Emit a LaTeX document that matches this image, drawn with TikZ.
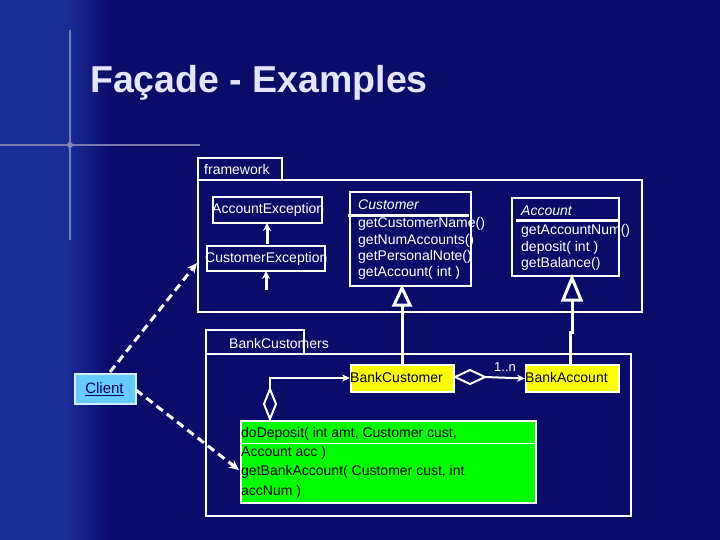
\documentclass[tikz,border=0pt]{standalone}
\usepackage{fontspec}
\setmainfont{Liberation Sans}
\usetikzlibrary{arrows.meta}
\definecolor{bg}{HTML}{0A0C6A}
\definecolor{strip}{HTML}{1A2C96}
\definecolor{titlec}{HTML}{E4E4FF}
\definecolor{yel}{HTML}{FFFF00}
\definecolor{grn}{HTML}{00FF00}
\definecolor{clientc}{HTML}{66CCFF}
\definecolor{clienttxt}{HTML}{000066}
\begin{document}
\begin{tikzpicture}[x=1pt,y=-1pt,
  box/.style={draw=white,line width=2pt,inner sep=0pt,anchor=north west},
  lbl/.style={text=white,font=\fontsize{14}{16}\selectfont,anchor=west,inner sep=0pt},
  dk/.style={text=black,font=\fontsize{14}{16}\selectfont,anchor=west,inner sep=0pt},
  wl/.style={draw=white,line width=2pt},
  dsh/.style={draw=white,line width=3pt,dash pattern=on 8pt off 5pt,-{Stealth[length=10pt,width=9pt]}},
  gen/.style={draw=white,line width=3pt},
  tri/.style={draw=white,line width=3pt,fill=bg}]
\useasboundingbox (0,0) rectangle (720,540);
\fill[bg] (0,0) rectangle (720,540);
\fill[strip] (0,0) rectangle (68,540);
\shade[left color=strip, right color=bg] (68,0) rectangle (110,540);
\draw[white!45!bg,line width=1.2pt] (0,145) -- (200,145);
\draw[white!45!bg,line width=1.2pt] (70,30) -- (70,240);
\fill[white!50!bg] (70,145) circle (3);
\node[text=titlec,font=\bfseries\fontsize{37.5}{40}\selectfont,anchor=west,inner sep=0pt] (title) at (90,83) {Façade - Examples};
% framework
\draw[wl] (198,158) rectangle (282,180);
\node[lbl] (fw) at (204,169) {framework};
\draw[wl] (198,180) rectangle (642,312);
\draw[wl] (213,197) rectangle (322,223);
\node[lbl] (ae) at (212,210) {AccountException};
\draw[wl] (207,246) rectangle (325,271);
\node[lbl] (ce) at (205,259) {CustomerException};
\coordinate (a1) at (267,244); \coordinate (a2) at (267,223);
\coordinate (b1) at (266,290); \coordinate (b2) at (266,271);
\draw[gen,-{Stealth[length=8pt,width=8pt]}] (a1) -- (a2);
\draw[gen,-{Stealth[length=8pt,width=8pt]}] (b1) -- (b2);
% Customer
\draw[wl] (350,192) rectangle (471,286);
\draw[wl,line width=3pt] (348,216) -- (469,216);
\node[lbl,font=\itshape\fontsize{14}{16}\selectfont] (cu) at (358,205) {Customer};
\node[lbl] (cm1) at (358,224) {getCustomerName()};
\node[lbl] (cm2) at (358,241) {getNumAccounts()};
\node[lbl] (cm3) at (358,257) {getPersonalNote()};
\node[lbl] (cm4) at (358,273) {getAccount( int )};
% Account
\draw[wl] (512,198) rectangle (619,276);
\draw[wl,line width=3pt] (516,221) -- (619,221);
\node[lbl,font=\itshape\fontsize{14}{16}\selectfont] (ac) at (521,211) {Account};
\node[lbl] (am1) at (521,231) {getAccountNum()};
\node[lbl] (am2) at (521,248) {deposit( int )};
\node[lbl] (am3) at (521,264) {getBalance()};
% BankCustomers
\draw[wl] (206,330) rectangle (304,354);
\node[lbl] (bcs) at (229,343) {BankCustomers};
\draw[wl] (206,354) rectangle (631,516);
\node[box,fill=yel,minimum width=103pt,minimum height=27pt] (bc) at (350,364) {};
\node[dk] at (350,377.5) {BankCustomer};
\node[box,fill=yel,minimum width=93pt,minimum height=27pt] (ba) at (525,364) {};
\node[dk] at (525,377.5) {BankAccount};
% generalization
\draw[gen] (402,305) -- (402,364);
\draw[tri] (402,288) -- (410,305) -- (394,305) -- cycle;
\draw[gen] (572,300) -- (572,332) -- (570,332) -- (570,364);
\draw[tri] (572,278) -- (581,300) -- (563,300) -- cycle;
% aggregation
\draw[wl,-{Stealth[length=8pt,width=7pt]}] (485,377) -- (ba.west);
\draw[wl,fill=bg] (455,377) -- (470,370) -- (485,377) -- (470,384) -- cycle;
\node[lbl,font=\fontsize{13}{15}\selectfont] (n) at (494,367) {1..n};
% green
\node[box,fill=grn,minimum width=295pt,minimum height=82pt] (gr) at (240,420) {};
\draw[draw=white,line width=1pt] (240,443) -- (535,443);
\node[dk] at (241,434) {doDeposit( int amt, Customer cust,};
\node[dk] at (241,453) {Account acc )};
\node[dk] at (241,472) {getBankAccount( Customer cust, int};
\node[dk] at (241,492) {accNum )};
\draw[wl,-{Stealth[length=8pt,width=7pt]}] (270,389) -- (270,378) -- (bc.west |- 0,378);
\draw[wl,fill=bg] (270,389) -- (276,404) -- (270,419) -- (264,404) -- cycle;
% client
\node[box,draw=white!70!clientc,line width=1.5pt,fill=clientc,minimum width=61pt,minimum height=30pt] (cl) at (74,373) {};
\node[text=clienttxt,font=\fontsize{15}{17}\selectfont,inner sep=0pt] at (104.5,389) {\underline{Client}};
\coordinate (fwl) at (197,263);
\coordinate (grl) at (239,470);
\draw[dsh] (110,372) -- (fwl);
\draw[dsh] (136,390) -- (grl);
\end{tikzpicture}
\end{document}
